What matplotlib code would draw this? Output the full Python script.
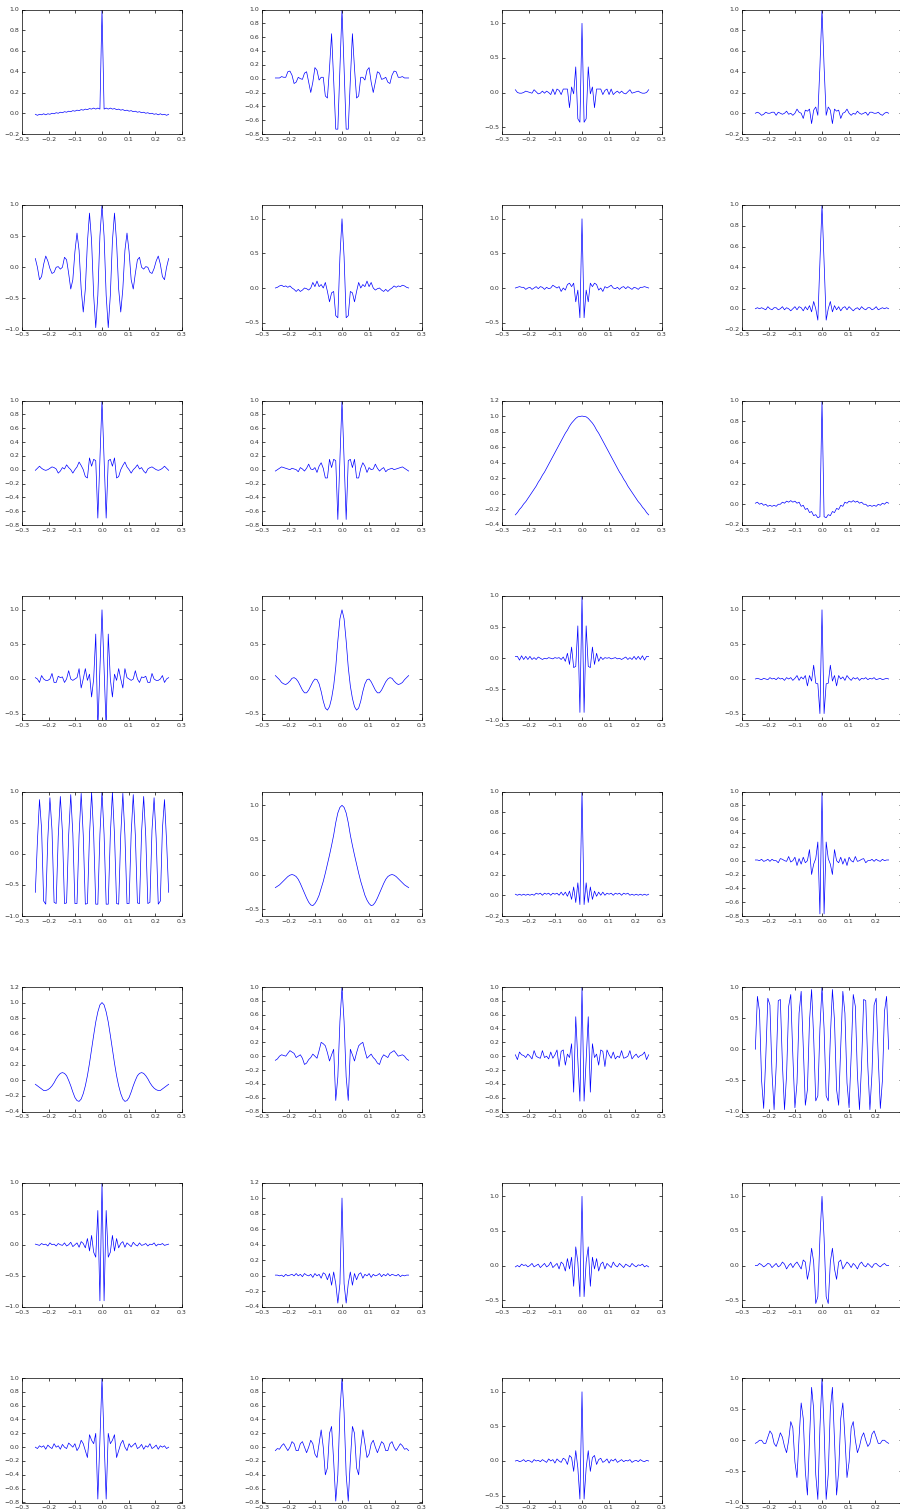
import numpy as np
import matplotlib
matplotlib.use('Agg')
import matplotlib.pyplot as plt

# lag axis: 128 Hz sampling, +-32 samples (+-0.25 s)
lags = np.arange(-32, 33) / 128.0

# autocorrelation values for lags 0..32 (curves are symmetric about 0)
r1c1 = [1.0, 0.04, 0.05, 0.04, 0.05, 0.04, 0.045, 0.035, 0.04, 0.03, 0.035, 0.025, 0.03, 0.02, 0.025, 0.015, 0.02,
        0.01, 0.015, 0.005, 0.01, 0.0, 0.005, -0.005, 0.0, -0.01, -0.005, -0.015, -0.005, -0.015, -0.01, -0.02, -0.01]
r1c2 = [1.0, 0.15, -0.73, -0.73, -0.02, 0.65, 0.15, -0.28, -0.25, 0.02, 0.02, -0.02, 0.12, 0.16, -0.05, -0.2, -0.05,
        0.1, 0.08, -0.01, 0.0, 0.02, -0.05, -0.07, 0.05, 0.11, 0.1, 0.02, 0.02, 0.03, 0.01, 0.01, 0.01]
r1c3 = [1.0, -0.43, -0.38, 0.37, -0.02, 0.08, -0.22, 0.05, 0.05, 0.05, -0.03, 0.03, 0.05, -0.03, 0.05, -0.03, 0.0,
        0.02, -0.01, 0.02, -0.01, -0.02, 0.01, 0.04, -0.01, 0.0, 0.01, 0.02, 0.0, -0.01, -0.01, 0.0, 0.04]
r1c4 = [1.0, 0.45, -0.02, 0.06, 0.03, -0.1, 0.04, 0.02, 0.03, -0.05, 0.0, 0.01, 0.04, 0.0, -0.02, 0.0, -0.01,
        0.02, 0.0, -0.01, 0.0, 0.01, -0.02, 0.01, 0.01, 0.0, 0.0, 0.01, -0.01, -0.02, 0.0, 0.01, 0.0]

r2c1 = [1.0, 0.5, -0.45, -0.97, -0.45, 0.42, 0.87, 0.4, -0.35, -0.72, -0.35, 0.27, 0.55, 0.25, -0.2, -0.35, -0.1,
        0.12, 0.16, 0.0, -0.03, 0.01, 0.0, -0.08, -0.1, -0.02, 0.1, 0.18, 0.05, -0.15, -0.2, 0.0, 0.14]
r2c2 = [1.0, 0.45, -0.43, -0.4, -0.05, -0.07, -0.2, -0.05, 0.08, 0.0, 0.05, 0.02, 0.1, 0.02, 0.08, 0.0, -0.03,
        -0.01, 0.0, -0.03, -0.05, -0.02, -0.05, -0.02, 0.0, 0.03, 0.01, 0.03, 0.02, 0.04, 0.03, 0.01, 0.0]
r2c3 = [1.0, -0.43, -0.03, -0.2, 0.07, 0.02, 0.07, 0.05, -0.03, 0.0, -0.05, 0.02, 0.0, 0.02, 0.04, 0.0, -0.01,
        0.01, -0.02, 0.01, 0.02, -0.01, 0.02, 0.0, -0.02, 0.01, 0.0, -0.02, 0.01, 0.01, 0.02, 0.01, 0.0]
r2c4 = [1.0, 0.45, -0.11, 0.0, 0.07, -0.03, 0.03, -0.01, 0.02, -0.02, 0.01, 0.02, -0.01, 0.02, 0.0, -0.02, 0.0,
        0.01, -0.01, 0.02, 0.0, -0.01, 0.01, 0.01, -0.01, 0.0, 0.02, -0.01, 0.0, 0.01, 0.0, 0.01, 0.0]

r3c1 = [1.0, 0.15, -0.7, 0.13, 0.15, 0.05, 0.17, -0.12, -0.1, 0.0, 0.06, 0.11, 0.04, 0.0, -0.05, 0.0, 0.03,
        0.07, 0.01, 0.03, -0.02, -0.05, 0.01, 0.03, 0.04, 0.02, 0.0, -0.01, 0.0, 0.02, 0.05, 0.02, -0.01]
r3c2 = [1.0, 0.15, -0.72, 0.13, 0.15, 0.03, 0.15, -0.12, -0.12, 0.02, 0.1, 0.05, -0.04, 0.03, 0.0, 0.01, 0.08,
        0.02, -0.02, 0.01, 0.03, -0.03, 0.0, 0.01, 0.02, 0.0, 0.01, 0.02, 0.03, 0.04, 0.02, 0.0, -0.02]
r3c3 = [1.0, 0.995, 0.99, 0.97, 0.94, 0.91, 0.87, 0.82, 0.78, 0.73, 0.68, 0.63, 0.58, 0.53, 0.48, 0.43, 0.38,
        0.33, 0.28, 0.24, 0.19, 0.15, 0.10, 0.06, 0.02, -0.02, -0.06, -0.10, -0.13, -0.17, -0.20, -0.24, -0.27]
r3c4 = [1.0, -0.12, -0.13, -0.1, -0.11, -0.07, -0.08, -0.04, -0.05, -0.01, -0.02, 0.02, 0.01, 0.03, 0.02, 0.035, 0.02,
        0.03, 0.01, 0.02, 0.0, 0.0, -0.02, -0.01, -0.02, -0.01, -0.02, 0.0, -0.01, 0.01, 0.0, 0.02, 0.01]

r4c1 = [1.0, 0.15, -0.72, 0.65, 0.0, -0.26, 0.07, -0.02, 0.15, 0.0, -0.13, 0.15, 0.02, 0.0, -0.02, 0.0, 0.12,
        0.0, -0.05, 0.03, 0.02, 0.04, -0.05, -0.05, 0.08, 0.0, -0.02, -0.02, 0.0, 0.05, -0.05, 0.0, 0.02]
r4c2 = [1.0, 0.87, 0.55, 0.17, -0.1, -0.28, -0.4, -0.45, -0.42, -0.32, -0.18, -0.07, -0.01, 0.0, -0.04, -0.1, -0.16,
        -0.2, -0.2, -0.16, -0.1, -0.04, 0.0, 0.02, 0.01, -0.03, -0.06, -0.08, -0.07, -0.05, -0.01, 0.02, 0.05]
r4c3 = [1.0, -0.87, 0.52, -0.13, -0.15, 0.18, -0.1, 0.08, -0.05, 0.02, -0.02, 0.01, 0.0, 0.01, -0.01, 0.0, 0.01,
        -0.01, 0.0, -0.02, 0.0, 0.02, -0.02, 0.01, -0.02, 0.03, -0.02, 0.03, -0.02, 0.04, -0.03, 0.03, 0.03]
r4c4 = [1.0, -0.5, -0.07, -0.06, 0.2, -0.03, 0.05, -0.1, 0.05, 0.0, 0.03, -0.02, 0.05, 0.01, -0.02, 0.02, 0.0,
        0.02, -0.02, 0.01, 0.0, 0.02, -0.01, 0.01, 0.0, 0.02, -0.01, 0.0, 0.01, -0.01, 0.0, 0.01, 0.0]

r5c1 = [1.0, 0.31, -0.81, -0.81, 0.31, 0.99, 0.3, -0.8, -0.81, 0.3, 0.97, 0.3, -0.8, -0.8, 0.32, 0.95, 0.3,
        -0.79, -0.8, 0.35, 0.92, 0.28, -0.8, -0.78, 0.38, 0.9, 0.25, -0.81, -0.76, 0.4, 0.87, 0.2, -0.62]
r5c2 = [1.0, 0.97, 0.89, 0.75, 0.57, 0.42, 0.28, 0.15, 0.02, -0.1, -0.2, -0.3, -0.37, -0.42, -0.45, -0.44, -0.4,
        -0.34, -0.27, -0.2, -0.13, -0.07, -0.03, -0.01, 0.0, -0.01, -0.03, -0.06, -0.09, -0.12, -0.15, -0.17, -0.19]
r5c3 = [1.0, -0.09, 0.12, -0.07, 0.08, -0.04, 0.04, -0.01, 0.03, 0.0, 0.03, 0.0, 0.02, 0.01, 0.02, 0.0, 0.02,
        0.01, 0.02, 0.0, 0.02, 0.01, 0.02, 0.0, 0.01, 0.0, 0.01, 0.0, 0.01, 0.0, 0.01, 0.0, 0.01]
r5c4 = [1.0, -0.77, 0.27, 0.03, -0.05, -0.2, 0.16, 0.0, -0.03, 0.05, -0.05, 0.03, -0.07, 0.05, 0.0, -0.02, 0.06,
        -0.01, 0.0, 0.02, 0.03, -0.03, 0.0, 0.0, 0.02, -0.01, 0.02, 0.0, -0.01, 0.02, 0.0, 0.01, 0.01]

r6c1 = [1.0, 0.97, 0.88, 0.75, 0.58, 0.4, 0.22, 0.06, -0.07, -0.17, -0.24, -0.27, -0.26, -0.22, -0.15, -0.07, 0.0,
        0.06, 0.09, 0.1, 0.09, 0.06, 0.02, -0.03, -0.07, -0.1, -0.12, -0.13, -0.13, -0.11, -0.09, -0.07, -0.05]
r6c2 = [1.0, 0.5, -0.3, -0.64, 0.1, 0.02, -0.07, 0.05, 0.15, 0.18, 0.2, 0.08, -0.03, 0.0, 0.03, -0.02, -0.05,
        -0.1, -0.12, -0.03, 0.02, 0.0, -0.02, 0.04, 0.06, 0.08, 0.04, 0.0, 0.01, 0.02, 0.0, -0.04, -0.06]
r6c3 = [1.0, -0.65, -0.05, 0.57, -0.52, 0.18, -0.02, 0.03, -0.13, 0.09, 0.07, -0.15, 0.09, 0.02, -0.03, 0.06, -0.04,
        0.0, -0.02, 0.08, -0.03, -0.02, 0.0, 0.08, -0.04, 0.0, 0.03, -0.02, 0.01, 0.02, 0.06, -0.05, 0.02]
r6c4 = [1.0, 0.33, -0.75, -0.83, 0.19, 0.96, 0.46, -0.65, -0.9, 0.05, 0.93, 0.58, -0.54, -0.94, -0.1, 0.88, 0.69,
        -0.41, -0.97, -0.24, 0.8, 0.78, -0.28, -0.97, -0.38, 0.71, 0.82, -0.14, -0.95, -0.5, 0.61, 0.85, 0.0]

r7c1 = [1.0, -0.9, 0.55, -0.2, -0.12, 0.15, -0.1, 0.1, -0.05, 0.02, 0.05, -0.04, 0.03, 0.0, -0.03, 0.04, 0.0,
        -0.02, 0.03, -0.01, 0.0, 0.02, -0.02, 0.01, 0.0, 0.03, -0.02, 0.01, 0.0, 0.02, -0.01, 0.0, 0.01]
r7c2 = [1.0, -0.1, -0.35, -0.1, 0.05, -0.12, 0.03, -0.05, 0.02, 0.04, -0.03, 0.02, 0.0, 0.03, -0.02, 0.02, 0.0,
        0.01, 0.03, -0.01, 0.02, 0.0, 0.03, 0.0, 0.02, 0.01, 0.0, 0.02, -0.01, 0.01, 0.0, 0.01, 0.01]
r7c3 = [1.0, -0.45, 0.05, 0.27, -0.3, 0.12, -0.05, 0.1, -0.08, 0.02, 0.05, -0.05, 0.03, 0.0, -0.03, 0.05, 0.0,
        -0.02, 0.03, 0.0, -0.03, 0.02, 0.0, -0.02, 0.03, 0.0, -0.02, 0.01, 0.0, 0.02, -0.02, 0.0, -0.02]
r7c4 = [1.0, 0.4, -0.45, -0.55, 0.05, 0.25, -0.05, -0.2, 0.05, 0.08, -0.05, 0.0, 0.05, 0.02, -0.03, 0.03, 0.0,
        -0.05, 0.02, 0.05, 0.0, -0.02, 0.03, 0.0, -0.03, 0.02, 0.03, 0.0, -0.02, 0.01, 0.03, 0.0, 0.0]

r8c1 = [1.0, 0.1, -0.75, 0.2, 0.05, 0.1, 0.18, -0.15, -0.05, 0.05, 0.1, 0.0, -0.05, 0.05, 0.0, 0.03, 0.06,
        -0.02, 0.0, 0.04, -0.03, 0.02, 0.0, 0.05, -0.02, 0.0, 0.03, -0.03, 0.02, 0.0, 0.02, -0.02, 0.0]
r8c2 = [1.0, 0.5, -0.4, -0.78, -0.2, 0.3, 0.2, -0.3, -0.4, 0.0, 0.25, 0.05, -0.15, -0.1, 0.05, 0.1, 0.0,
        -0.08, 0.0, 0.08, 0.05, -0.05, -0.05, 0.05, 0.08, 0.0, -0.05, 0.0, 0.05, 0.02, -0.03, -0.02, -0.05]
r8c3 = [1.0, -0.55, -0.1, 0.15, -0.15, 0.05, 0.08, -0.05, 0.02, 0.04, -0.02, 0.0, 0.03, -0.03, 0.02, 0.0, 0.03,
        -0.02, 0.0, 0.02, -0.01, 0.01, 0.0, 0.02, -0.02, 0.0, 0.01, -0.01, 0.02, 0.0, -0.01, 0.01, 0.0]
r8c4 = [1.0, 0.2, -0.95, -0.55, 0.5, 0.85, 0.0, -0.88, -0.5, 0.35, 0.6, 0.05, -0.6, -0.35, 0.2, 0.3, 0.0,
        -0.2, -0.1, 0.05, 0.12, 0.0, -0.1, -0.05, 0.1, 0.15, 0.05, -0.05, -0.05, 0.0, 0.0, -0.03, -0.05]

panels = [r1c1, r1c2, r1c3, r1c4, r2c1, r2c2, r2c3, r2c4,
          r3c1, r3c2, r3c3, r3c4, r4c1, r4c2, r4c3, r4c4,
          r5c1, r5c2, r5c3, r5c4, r6c1, r6c2, r6c3, r6c4,
          r7c1, r7c2, r7c3, r7c4, r8c1, r8c2, r8c3, r8c4]

# y range and tick step of each panel
ylims = [(-0.2, 1.0), (-0.8, 1.0), (-0.6, 1.2), (-0.2, 1.0),
         (-1.0, 1.0), (-0.6, 1.2), (-0.6, 1.2), (-0.2, 1.0),
         (-0.8, 1.0), (-0.8, 1.0), (-0.4, 1.2), (-0.2, 1.0),
         (-0.6, 1.2), (-0.6, 1.2), (-1.0, 1.0), (-0.6, 1.2),
         (-1.0, 1.0), (-0.6, 1.2), (-0.2, 1.0), (-0.8, 1.0),
         (-0.4, 1.2), (-0.8, 1.0), (-0.8, 1.0), (-1.0, 1.0),
         (-1.0, 1.0), (-0.4, 1.2), (-0.6, 1.2), (-0.6, 1.2),
         (-0.8, 1.0), (-0.8, 1.0), (-0.6, 1.2), (-1.0, 1.0)]
ysteps = [0.2, 0.2, 0.5, 0.2,
          0.5, 0.5, 0.5, 0.2,
          0.2, 0.2, 0.2, 0.2,
          0.5, 0.5, 0.5, 0.5,
          0.5, 0.5, 0.2, 0.2,
          0.2, 0.2, 0.2, 0.5,
          0.5, 0.2, 0.5, 0.5,
          0.2, 0.2, 0.5, 0.5]

plt.style.use('classic')
plt.rcParams['figure.facecolor'] = 'white'
plt.rcParams['savefig.facecolor'] = 'white'
plt.rcParams['axes.linewidth'] = 0.5
plt.rcParams['xtick.labelsize'] = 4.5
plt.rcParams['ytick.labelsize'] = 4.5
plt.rcParams['xtick.major.size'] = 2
plt.rcParams['ytick.major.size'] = 2
plt.rcParams['xtick.major.width'] = 0.5
plt.rcParams['ytick.major.width'] = 0.5
plt.rcParams['xtick.major.pad'] = 2
plt.rcParams['ytick.major.pad'] = 2

W, H = 900.0, 1512.0
fig = plt.figure(figsize=(9, 15.12), dpi=100)

for i, half in enumerate(panels):
    r, c = divmod(i, 4)
    left = 22 + 240 * c
    top = 9.5 + 195.5 * r
    ax = fig.add_axes([left / W, 1 - (top + 124.5) / H, 160 / W, 124.5 / H])

    half = np.asarray(half)
    acf = np.concatenate([half[:0:-1], half])
    ax.plot(lags, acf, color='b', linewidth=0.5)

    ax.set_xlim(-0.3, 0.3)
    ax.set_xticks(np.round(np.arange(-0.3, 0.31, 0.1), 1))
    lo, hi = ylims[i]
    step = ysteps[i]
    ax.set_ylim(lo, hi)
    yt = np.arange(np.ceil(lo / step - 1e-9) * step, hi + 1e-9, step)
    ax.set_yticks(np.round(yt, 1))
    for lab in ax.get_xticklabels() + ax.get_yticklabels():
        lab.set_color('0.2')
    if c == 3:
        # the last column runs past the right edge of the canvas
        ax.get_xticklabels()[-1].set_visible(False)

fig.savefig('out.png', dpi=100)
